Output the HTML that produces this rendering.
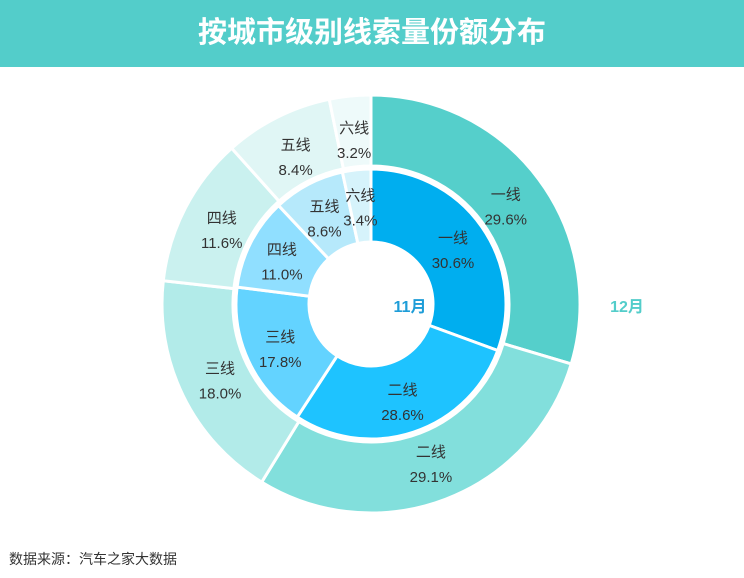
<!DOCTYPE html>
<html><head><meta charset="utf-8">
<style>
body{margin:0;width:744px;height:578px;background:#fff;overflow:hidden;font-family:"Liberation Sans","Noto Sans CJK SC",sans-serif;}
#header{position:absolute;left:0;top:0;width:744px;height:67px;background:#53cdca;}
#title{position:absolute;left:0;top:0;width:744px;line-height:66px;text-align:center;color:#fff;font-size:29px;font-weight:bold;letter-spacing:0px;}
#source{position:absolute;left:9px;top:549px;font-size:14px;color:#333;}
svg{position:absolute;left:0;top:0;}
</style></head><body>
<div id="header"><div id="title">按城市级别线索量份额分布</div></div>
<svg id="chart" width="744" height="578"></svg>
<div id="source">数据来源：汽车之家大数据</div>
<script>
const categories = ["一线","二线","三线","四线","五线","六线"];
const decValues = [29.6,29.1,18.0,11.6,8.4,3.2];
const novValues = [30.6,28.6,17.8,11.0,8.6,3.4];
const decColors = ["#55cfcb","#82dfdc","#b2ebe9","#caf1ef","#e0f6f5","#eefafa"];
const novColors = ["#00aeef","#1ec3ff","#63d3ff","#90dfff","#b6e9fb","#d6f3fb"];
const ringLabels = ["11月","12月"];

const NS="http://www.w3.org/2000/svg";
const svg=document.getElementById('chart');
const cx=371, cy=304;
function pt(r,a){return [cx+r*Math.sin(a), cy-r*Math.cos(a)];}
function arc(r0,r1,a0,a1){
  const large=(a1-a0)>Math.PI?1:0;
  const p0=pt(r1,a0),p1=pt(r1,a1),p2=pt(r0,a1),p3=pt(r0,a0);
  return `M${p0[0]},${p0[1]}A${r1},${r1} 0 ${large} 1 ${p1[0]},${p1[1]}L${p2[0]},${p2[1]}A${r0},${r0} 0 ${large} 0 ${p3[0]},${p3[1]}Z`;
}
function ring(values,colors,r0,r1,lr,prefix){
  const total=values.reduce((s,v)=>s+v,0);
  let a=0;
  values.forEach((v,i)=>{
    const da=v/total*Math.PI*2;
    const p=document.createElementNS(NS,'path');
    p.setAttribute('d',arc(r0,r1,a,a+da));
    p.setAttribute('fill',colors[i]);
    p.setAttribute('stroke','#fff');
    p.setAttribute('stroke-width','3');
    
    
    svg.appendChild(p);
    const m=pt(lr,a+da/2);
    const t=document.createElementNS(NS,'text');
    t.setAttribute('x',m[0]);t.setAttribute('y',m[1]-4);
    t.setAttribute('text-anchor','middle');
    t.setAttribute('font-size','15');t.setAttribute('fill','#333');
    t.textContent=categories[i];
    
    
    svg.appendChild(t);
    const t2=document.createElementNS(NS,'text');
    t2.setAttribute('x',m[0]);t2.setAttribute('y',m[1]+21);
    t2.setAttribute('text-anchor','middle');
    t2.setAttribute('font-size','15');t2.setAttribute('fill','#333');
    t2.textContent=v.toFixed(1)+'%';
    
    
    svg.appendChild(t2);
    a+=da;
  });
}
ring(decValues,decColors,138,209,168,'dec');
ring(novValues,novColors,62,135,100,'nov');
const l1=document.createElementNS(NS,'text');
l1.setAttribute('x',410);l1.setAttribute('y',312);l1.setAttribute('text-anchor','middle');
l1.setAttribute('font-size','16');l1.setAttribute('font-weight','bold');l1.setAttribute('fill','#1e9dd8');
l1.textContent=ringLabels[0];


svg.appendChild(l1);
const l2=document.createElementNS(NS,'text');
l2.setAttribute('x',627);l2.setAttribute('y',312);l2.setAttribute('text-anchor','middle');
l2.setAttribute('font-size','16');l2.setAttribute('font-weight','bold');l2.setAttribute('fill','#53cdca');
l2.textContent=ringLabels[1];


svg.appendChild(l2);
</script>
</body></html>
